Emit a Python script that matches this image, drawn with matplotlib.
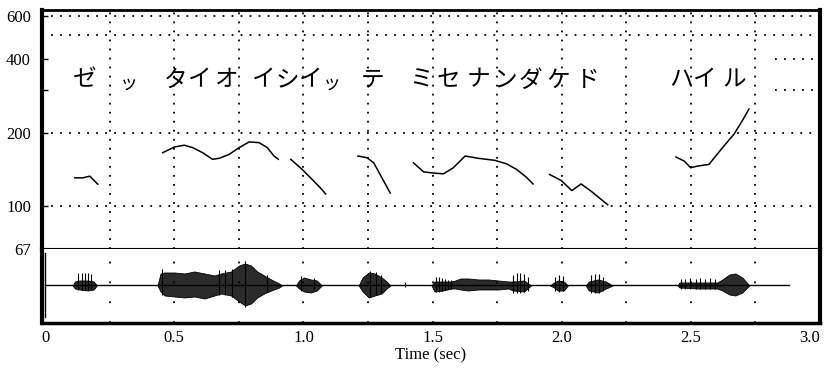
import matplotlib.pyplot as plt
from matplotlib.ticker import FixedLocator, NullLocator

plt.rcParams["font.family"] = ["Liberation Serif", "DejaVu Serif"]

# F0 contours, one list per voiced stretch (time in sec, F0 in Hz)
contour_t = [
    [0.115, 0.146, 0.173, 0.181, 0.204],
    [0.455, 0.501, 0.539, 0.571, 0.610, 0.648, 0.674, 0.713, 0.751, 0.790,
     0.828, 0.860, 0.886, 0.903],
    [0.951, 0.995, 1.034, 1.066, 1.086],
    [1.211, 1.246, 1.272, 1.304, 1.336],
    [1.426, 1.465, 1.497, 1.542, 1.580, 1.626, 1.677, 1.741, 1.786, 1.825,
     1.863, 1.889],
    [1.953, 1.998, 2.039, 2.075, 2.114, 2.146, 2.178],
    [2.442, 2.474, 2.499, 2.525, 2.570, 2.596, 2.628, 2.667, 2.699, 2.725],
]
contour_hz = [
    [130.8, 130.8, 132.9, 130.3, 123.2],
    [165.7, 174.9, 177.8, 173.8, 165.7, 155.7, 157.2, 163.2, 173.8, 183.4,
     182.2, 173.8, 160.6, 155.7],
    [155.7, 141.6, 128.8, 118.9, 112.4],
    [160.6, 158.1, 150.7, 130.8, 113.4],
    [150.7, 138.4, 137.1, 135.8, 143.8, 160.6, 157.2, 154.2, 149.3, 141.6,
     131.6, 123.5],
    [135.0, 127.6, 116.0, 123.5, 115.3, 108.2, 101.6],
    [159.1, 153.2, 143.8, 146.1, 148.4, 160.6, 176.6, 197.3, 223.8, 250.0],
]

# handwritten transcription above the contours
kana = ["ゼ", "ッ", "タ", "イ", "オ", "イ", "シ", "イ", "ッ", "テ",
        "ミ", "セ", "ナ", "ン", "ダ", "ケ", "ド", "ハ", "イ", "ル"]
kana_t = [0.154, 0.323, 0.505, 0.597, 0.705, 0.845, 0.936, 1.027, 1.110, 1.268,
          1.457, 1.561, 1.677, 1.781, 1.877, 1.985, 2.101, 2.460, 2.552, 2.668]

# speech waveform, drawn as envelopes plus pitch pulses (arbitrary amplitude)
wave_start = 0.0
wave_end = 2.88
env_t = [
    [0.107, 0.115, 0.134, 0.165, 0.188, 0.200],
    [0.435, 0.447, 0.462, 0.501, 0.539, 0.578, 0.617, 0.655, 0.682, 0.720,
     0.751, 0.774, 0.797, 0.821, 0.848, 0.875, 0.906, 0.917],
    [0.971, 0.983, 1.002, 1.029, 1.052, 1.071],
    [1.214, 1.229, 1.253, 1.276, 1.303, 1.322, 1.337],
    [1.496, 1.507, 1.540, 1.573, 1.588, 1.608, 1.638, 1.677, 1.715, 1.754,
     1.793, 1.812, 1.854, 1.881],
    [1.955, 1.970, 1.985, 2.008, 2.024],
    [2.093, 2.105, 2.140, 2.171, 2.197],
    [2.448, 2.456, 2.525, 2.602, 2.622, 2.649, 2.672, 2.699, 2.726],
]
env_up = [
    [0, 4, 5, 5, 4, 0],
    [0, 12, 13, 13, 12, 14, 12, 10, 12, 14, 20, 22, 20, 14, 10, 6, 2, 0],
    [0, 5, 8, 6, 5, 0],
    [0, 8, 13, 12, 8, 4, 0],
    [0, 4, 4, 4, 5, 7, 7, 6, 6, 5, 4, 4, 5, 0],
    [0, 3, 5, 4, 0],
    [0, 4, 6, 4, 0],
    [0, 3, 3, 3, 6, 11, 12, 8, 0],
]
env_low = [
    [0, 3, 4, 5, 4, 0],
    [0, 6, 10, 11, 12, 11, 13, 10, 8, 10, 16, 20, 18, 12, 8, 5, 2, 0],
    [0, 3, 6, 7, 5, 0],
    [0, 6, 12, 10, 8, 3, 0],
    [0, 6, 5, 3, 3, 4, 5, 4, 4, 4, 3, 5, 6, 0],
    [0, 2, 5, 5, 0],
    [0, 5, 7, 3, 0],
    [0, 2, 3, 3, 5, 9, 10, 7, 0],
]
spike_t = [0.128, 0.141, 0.153, 0.166, 0.179,
           0.454, 0.674, 0.697, 0.724, 0.774, 0.859,
           0.990, 1.041,
           1.256, 1.280, 1.299, 1.395,
           1.515, 1.526, 1.538, 1.550, 1.561, 1.573,
           1.812, 1.827, 1.839, 1.854, 1.870,
           1.974, 1.989, 2.005,
           2.113, 2.128, 2.144, 2.159,
           2.460, 2.479, 2.498, 2.518, 2.537, 2.556, 2.575, 2.595]
spike_up = [12, 12, 12, 12, 11,
            16, 15, 15, 16, 24, 10,
            9, 7,
            14, 13, 10, 3,
            8, 8, 7, 6, 5, 5,
            10, 12, 12, 11, 8,
            8, 10, 9,
            10, 11, 11, 8,
            6, 6, 7, 6, 7, 6, 7, 6]
spike_low = [5, 5, 5, 5, 4,
             10, 10, 10, 12, 22, 6,
             6, 5,
             12, 10, 8, 2,
             7, 7, 6, 5, 4, 4,
             8, 8, 8, 7, 6,
             6, 7, 6,
             8, 8, 8, 6,
             4, 4, 4, 4, 4, 4, 4, 4]

grid_t = [0.25, 0.5, 0.75, 1.0, 1.25, 1.5, 1.75, 2.0, 2.25, 2.5, 2.75]
hz_ticks = [67, 100, 200, 400, 600]
time_ticks = [0, 0.5, 1.0, 1.5, 2.0, 2.5, 3.0]
time_labels = ["0", "0.5", "1.0", "1.5", "2.0", "2.5", "3.0"]

fig = plt.figure(figsize=(8.24, 3.68), dpi=100)
ax = fig.add_axes([0.051, 0.3234, 0.9442, 0.6494])
ax_w = fig.add_axes([0.051, 0.1223, 0.9442, 0.2011], sharex=ax)

dots = dict(color="black", lw=1.3, linestyle=(0, (1, 4)))

# pitch panel
ax.set_yscale("log")
ax.set_ylim(67, 634)
ax.set_xlim(-0.012, 3.0)
for t, hz in zip(contour_t, contour_hz):
    ax.plot(t, hz, color="black", lw=1.1)
for t in grid_t:
    ax.axvline(t, **dots)
for hz in [100, 200, 500, 600]:
    ax.axhline(hz, **dots)
for hz in [300, 400]:
    ax.axhline(hz, xmin=0.942, **dots)
for ch, t in zip(kana, kana_t):
    small = ch == "ッ"
    ax.text(t, 318 if small else 328, ch, ha="center", va="center",
            fontsize=13 if small else 17, family=["Noto Sans CJK JP"])

ax.yaxis.set_major_locator(FixedLocator(hz_ticks))
ax.yaxis.set_minor_locator(FixedLocator([300]))
ax.set_yticklabels([str(v) for v in hz_ticks])
ax.yaxis.set_minor_formatter(plt.NullFormatter())
ax.tick_params(axis="y", which="both", direction="in", length=4, width=1,
               labelsize=12, pad=8)
ax.tick_params(axis="x", which="both", length=0, labelbottom=False)
ax.spines["left"].set_linewidth(3)
ax.spines["right"].set_linewidth(3)
ax.spines["top"].set_linewidth(2)
ax.spines["bottom"].set_linewidth(1.5)

# waveform panel
ax_w.set_ylim(-37.5, 36.5)
ax_w.plot([wave_start, wave_end], [0, 0], color="black", lw=1)
for t, up, low in zip(env_t, env_up, env_low):
    ax_w.fill_between(t, up, [-v for v in low], color="#2b2b2b", lw=0.6,
                      edgecolor="black")
ax_w.vlines(spike_t, [-v for v in spike_low], spike_up, color="black", lw=0.8)
ax_w.axvline(0.0, ymin=0.08, ymax=0.95, color="black", lw=1)
for t in grid_t:
    ax_w.axvline(t, color="black", lw=1.3, linestyle=(0, (1, 10)))

ax_w.yaxis.set_major_locator(NullLocator())
ax_w.xaxis.set_major_locator(FixedLocator(time_ticks))
ax_w.set_xticklabels(time_labels)
ax_w.tick_params(axis="x", length=0, labelsize=12, pad=5)
ax_w.get_xticklabels()[-1].set_horizontalalignment("right")
ax_w.set_xlabel("Time (sec)", fontsize=12, labelpad=1)
ax_w.spines["left"].set_linewidth(3)
ax_w.spines["right"].set_linewidth(3)
ax_w.spines["bottom"].set_linewidth(2.5)
ax_w.spines["top"].set_visible(False)

fig.savefig("out.png", dpi=100)
